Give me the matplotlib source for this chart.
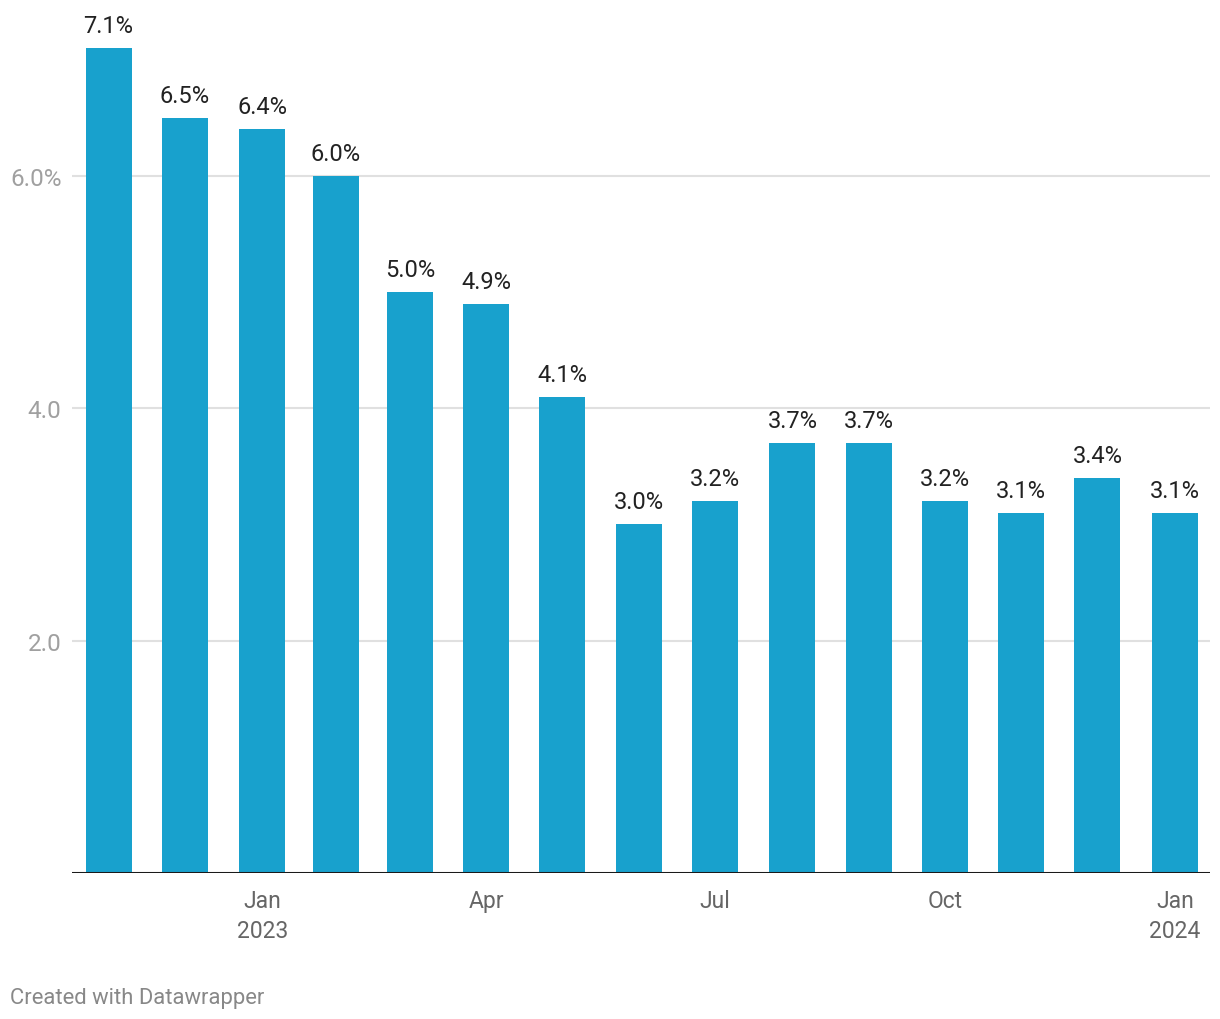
import numpy as np
import pandas as pd
import matplotlib
matplotlib.use("Agg")
import matplotlib.pyplot as plt
import matplotlib.dates as mdates

# monthly values, Nov 2022 .. Jan 2024
months = pd.date_range("2022-11-01", "2024-01-01", freq="MS")
values = [7.1, 6.5, 6.4, 6.0, 5.0, 4.9, 4.1, 3.0, 3.2, 3.7, 3.7, 3.2, 3.1, 3.4, 3.1]
value_labels = ["7.1%", "6.5%", "6.4%", "6.0%", "5.0%", "4.9%", "4.1%", "3.0%",
                "3.2%", "3.7%", "3.7%", "3.2%", "3.1%", "3.4%", "3.1%"]
y_ticks = [2.0, 4.0, 6.0]
y_tick_labels = ["2.0", "4.0", "6.0%"]
x_tick_months = ["2023-01-01", "2023-04-01", "2023-07-01", "2023-10-01", "2024-01-01"]
x_tick_labels = ["Jan\n2023", "Apr", "Jul", "Oct", "Jan\n2024"]

plt.rcParams['font.family'] = ['Roboto', 'DejaVu Sans']

W, H = 1220, 1020
fig = plt.figure(figsize=(W / 100, H / 100), dpi=100)
ax_left, ax_right, ax_bottom = 72, 1210, 1020 - 874
ytop = 7.4
ax_h = ytop * 116.2
ax = fig.add_axes([ax_left / W, ax_bottom / H, (ax_right - ax_left) / W, ax_h / H])

# bar centred in the middle of each month
ends = months + pd.offsets.MonthBegin(1)
centers = [mdates.date2num(s) + (mdates.date2num(e) - mdates.date2num(s)) / 2
           for s, e in zip(months, ends)]
bar_color = "#18a1cd"
ax.bar(centers, values, width=18.4, color=bar_color, zorder=3)

for x, v, lab in zip(centers, values, value_labels):
    ax.annotate(lab, (x, v), xytext=(0, 11.5), textcoords="offset points",
                ha="center", va="baseline", fontsize=17, color="#222222",
                annotation_clip=False)

ax.set_xlim(mdates.date2num(pd.Timestamp("2022-11-01")) + 0.4,
            mdates.date2num(pd.Timestamp("2024-01-31")) - 0.5)
ax.set_ylim(0, ytop)

for y in y_ticks:
    ax.axhline(y, color="#e0e0e0", lw=1.5, zorder=1)
ax.axhline(0, color="#1a1a1a", lw=2.2, zorder=4)

ax.set_yticks(y_ticks)
ax.set_yticklabels(y_tick_labels, fontsize=17.5, color="#a0a0a0")
ax.tick_params(axis="y", length=0, pad=7.5)

tick_pos = []
for m in x_tick_months:
    i = list(months).index(pd.Timestamp(m))
    tick_pos.append(centers[i])
ax.set_xticks(tick_pos)
ax.set_xticklabels(x_tick_labels, fontsize=16.5, color="#666666", linespacing=1.38)
ax.tick_params(axis="x", length=0, pad=11.5)

for s in ax.spines.values():
    s.set_visible(False)

fig.text(10 / W, (1020 - 1004) / H, "Created with Datawrapper", fontsize=15.8,
         color="#888888", va="baseline", ha="left")

fig.savefig("out.png", dpi=100)
